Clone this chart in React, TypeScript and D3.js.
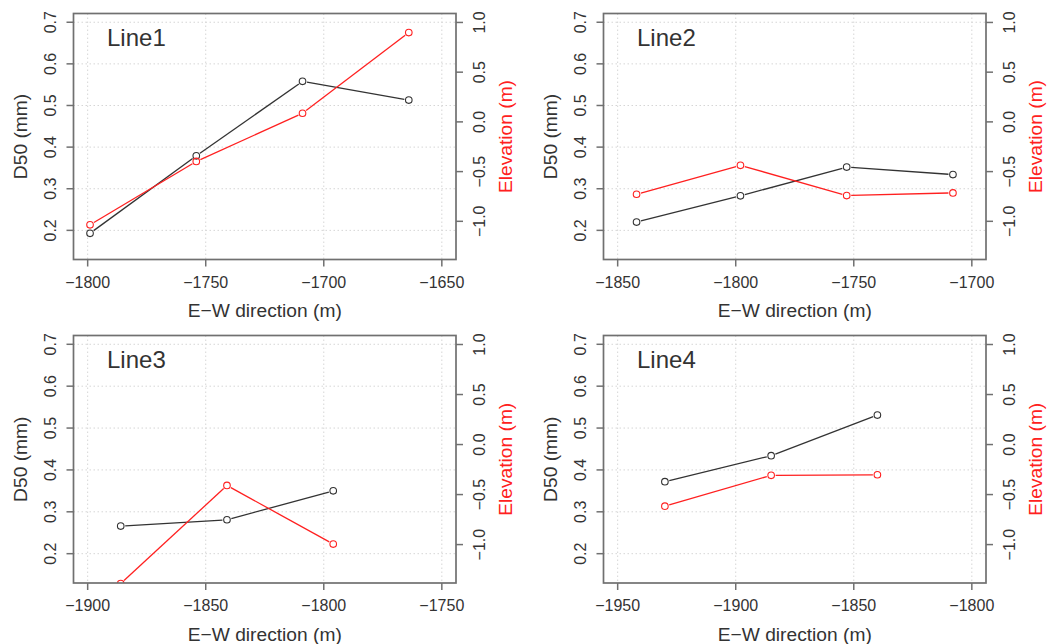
import React from 'react';
import * as d3 from 'd3';

// ---- data ----
const line1X = [-1799, -1754, -1709, -1664];
const line1D50 = [0.193, 0.379, 0.558, 0.513];
const line1Elev = [-1.035, -0.398, 0.087, 0.898];

const line2X = [-1842, -1798, -1753, -1708];
const line2D50 = [0.22, 0.283, 0.352, 0.334];
const line2Elev = [-0.728, -0.437, -0.741, -0.714];

const line3X = [-1886, -1841, -1796];
const line3D50 = [0.266, 0.281, 0.35];
const line3Elev = [-1.39, -0.409, -0.995];

const line4X = [-1930, -1885, -1840];
const line4D50 = [0.372, 0.434, 0.531];
const line4Elev = [-0.616, -0.308, -0.302];

const line1XTicks = [-1800, -1750, -1700, -1650];
const line2XTicks = [-1850, -1800, -1750, -1700];
const line3XTicks = [-1900, -1850, -1800, -1750];
const line4XTicks = [-1950, -1900, -1850, -1800];

const d50Ticks = [0.2, 0.3, 0.4, 0.5, 0.6, 0.7];
const elevTicks = [-1.0, -0.5, 0.0, 0.5, 1.0];

const panelNames = ['Line1', 'Line2', 'Line3', 'Line4'];
const xTitle = 'E\u2212W direction (m)';
const leftTitle = 'D50 (mm)';
const rightTitle = 'Elevation (m)';

// ---- layout / style ----
const W = 1049;
const H = 644;
const FONT = "'Liberation Sans', Arial, Helvetica, sans-serif";
const COLS = [
  [73.5, 456],
  [603.5, 986],
];
const ROWS = [
  [13.5, 259.5],
  [335.5, 583],
];
const D50_DOMAIN = [0.13, 0.721];
const ELEV_DOMAIN = [-1.384, 1.09];
const X_PAD = 6;
const BLACK = '#333333';
const RED = '#ff2020';
const AXIS = '#707070';
const TXT = '#333333';
const R = 3.3;

type PanelProps = {
  idx: number;
  name: string;
  xs: number[];
  d50: number[];
  elev: number[];
  xTicks: number[];
  col: number;
  row: number;
};

function gapSegments(pts: [number, number][], gap: number) {
  const segs: [number, number, number, number][] = [];
  for (let i = 0; i < pts.length - 1; i++) {
    const [x1, y1] = pts[i];
    const [x2, y2] = pts[i + 1];
    const dx = x2 - x1;
    const dy = y2 - y1;
    const len = Math.hypot(dx, dy);
    if (len <= 2 * gap) continue;
    const ux = dx / len;
    const uy = dy / len;
    segs.push([x1 + ux * gap, y1 + uy * gap, x2 - ux * gap, y2 - uy * gap]);
  }
  return segs;
}

function Panel({ idx, name, xs, d50, elev, xTicks, col, row }: PanelProps) {
  const [left, right] = COLS[col];
  const [top, bottom] = ROWS[row];
  const x = d3
    .scaleLinear()
    .domain([xTicks[0] - X_PAD, xTicks[xTicks.length - 1] + X_PAD])
    .range([left, right]);
  const yL = d3.scaleLinear().domain(D50_DOMAIN).range([bottom, top]);
  const yR = d3.scaleLinear().domain(ELEV_DOMAIN).range([bottom, top]);
  const f1 = d3.format('.1f');
  const fx = d3.format('d');
  const clipId = `clip-${idx}`;

  const blackPts: [number, number][] = xs.map((v, i) => [x(v), yL(d50[i])]);
  const redPts: [number, number][] = xs.map((v, i) => [x(v), yR(elev[i])]);
  const gap = R + 1.2;

  const cx = (left + right) / 2;
  const cy = (top + bottom) / 2;

  return (
    <g>
      <defs>
        <clipPath id={clipId}>
          <rect x={left} y={top} width={right - left} height={bottom - top} />
        </clipPath>
      </defs>
      {/* grid */}
      <g clipPath={`url(#${clipId})`}>
        {xTicks.map((t) => (
          <line
            key={`gx${t}`}
            x1={x(t)}
            x2={x(t)}
            y1={top}
            y2={bottom}
            stroke="#d6d6d6"
            strokeWidth={1}
            strokeDasharray="1.5,2.5"
          />
        ))}
        {d50Ticks.map((t) => (
          <line
            key={`gy${t}`}
            x1={left}
            x2={right}
            y1={yL(t)}
            y2={yL(t)}
            stroke="#d6d6d6"
            strokeWidth={1}
            strokeDasharray="1.5,2.5"
          />
        ))}
      </g>
      {/* series */}
      <g clipPath={`url(#${clipId})`}>
        {gapSegments(blackPts, gap).map((s, i) => (
          <line key={`bs${i}`} x1={s[0]} y1={s[1]} x2={s[2]} y2={s[3]} stroke={BLACK} strokeWidth={1.3} />
        ))}
        {blackPts.map((p, i) => (
          <circle key={`bc${i}`} cx={p[0]} cy={p[1]} r={R} fill="none" stroke={BLACK} strokeWidth={1.1} />
        ))}
        {gapSegments(redPts, gap).map((s, i) => (
          <line key={`rs${i}`} x1={s[0]} y1={s[1]} x2={s[2]} y2={s[3]} stroke={RED} strokeWidth={1.3} />
        ))}
        {redPts.map((p, i) => (
          <circle key={`rc${i}`} cx={p[0]} cy={p[1]} r={R} fill="none" stroke={RED} strokeWidth={1.1} />
        ))}
      </g>
      {/* box */}
      <rect
        x={left}
        y={top}
        width={right - left}
        height={bottom - top}
        fill="none"
        stroke={AXIS}
        strokeWidth={1.7}
      />
      {/* bottom axis */}
      {xTicks.map((t) => (
        <g key={`xt${t}`}>
          <line x1={x(t)} x2={x(t)} y1={bottom} y2={bottom + 7} stroke={AXIS} strokeWidth={1.5} />
          <text
            x={x(t)}
            y={bottom + 22.5}
            textAnchor="middle"
            dominantBaseline="central"
            fontSize={16}
            fill={TXT}
          >
            {fx(t)}
          </text>
        </g>
      ))}
      {/* left axis */}
      {d50Ticks.map((t) => (
        <g key={`yl${t}`}>
          <line x1={left - 7} x2={left} y1={yL(t)} y2={yL(t)} stroke={AXIS} strokeWidth={1.5} />
          <text
            transform={`translate(${left - 23},${yL(t)}) rotate(-90)`}
            textAnchor="middle"
            dominantBaseline="central"
            fontSize={16}
            fill={TXT}
          >
            {f1(t)}
          </text>
        </g>
      ))}
      {/* right axis */}
      {elevTicks.map((t) => (
        <g key={`yr${t}`}>
          <line x1={right} x2={right + 7} y1={yR(t)} y2={yR(t)} stroke={AXIS} strokeWidth={1.5} />
          <text
            transform={`translate(${right + 23.5},${yR(t)}) rotate(-90)`}
            textAnchor="middle"
            dominantBaseline="central"
            fontSize={16}
            fill={TXT}
          >
            {f1(t)}
          </text>
        </g>
      ))}
      {/* titles */}
      <text
        x={cx}
        y={bottom + 51}
        textAnchor="middle"
        dominantBaseline="central"
        fontSize={19.2}
        fill={TXT}
      >
        {xTitle}
      </text>
      <text
        transform={`translate(${left - 53},${cy}) rotate(-90)`}
        textAnchor="middle"
        dominantBaseline="central"
        fontSize={19.2}
        fill={TXT}
      >
        {leftTitle}
      </text>
      <text
        transform={`translate(${right + 49.5},${cy}) rotate(-90)`}
        textAnchor="middle"
        dominantBaseline="central"
        fontSize={19.2}
        fill={RED}
      >
        {rightTitle}
      </text>
      <text
        x={left + 33.5}
        y={yL(0.663)}
        dominantBaseline="central"
        fontSize={24}
        fill={TXT}
      >
        {name}
      </text>
    </g>
  );
}

export default function App() {
  const panels = [
    { name: panelNames[0], xs: line1X, d50: line1D50, elev: line1Elev, xTicks: line1XTicks, col: 0, row: 0 },
    { name: panelNames[1], xs: line2X, d50: line2D50, elev: line2Elev, xTicks: line2XTicks, col: 1, row: 0 },
    { name: panelNames[2], xs: line3X, d50: line3D50, elev: line3Elev, xTicks: line3XTicks, col: 0, row: 1 },
    { name: panelNames[3], xs: line4X, d50: line4D50, elev: line4Elev, xTicks: line4XTicks, col: 1, row: 1 },
  ];
  return (
    <svg
      width={W}
      height={H}
      viewBox={`0 0 ${W} ${H}`}
      style={{ position: 'absolute', left: 0, top: 0, background: '#fff', fontFamily: FONT }}
    >
      <rect x={0} y={0} width={W} height={H} fill="#fff" />
      {panels.map((p, i) => (
        <Panel key={p.name} idx={i} {...p} />
      ))}
    </svg>
  );
}
